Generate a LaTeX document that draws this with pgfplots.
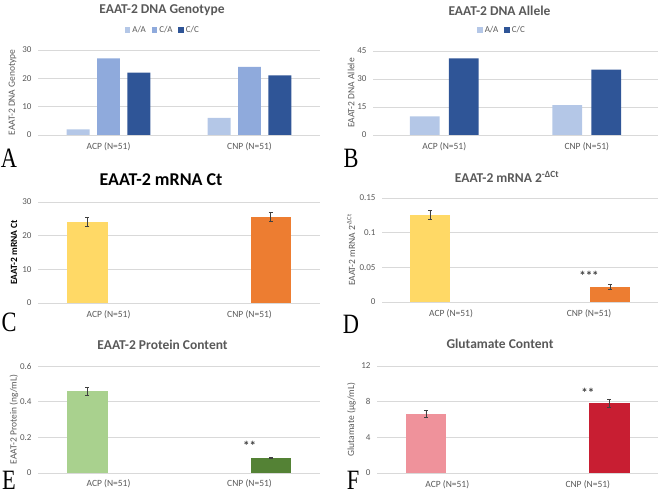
\documentclass[border=0pt]{standalone}
\usepackage{fontspec}
\setmainfont{Carlito}
\newfontfamily\panelfont{Liberation Serif}
\usepackage{pgfplots}
\pgfplotsset{compat=1.18}

\definecolor{gridgray}{HTML}{D9D9D9}
\definecolor{tickgray}{HTML}{595959}
\definecolor{errgray}{HTML}{404040}
\definecolor{aa}{HTML}{B4C7E7}
\definecolor{ca}{HTML}{8FAADC}
\definecolor{cc}{HTML}{2F5597}
\definecolor{yel}{HTML}{FFD966}
\definecolor{ora}{HTML}{ED7D31}
\definecolor{lgreen}{HTML}{A9D18E}
\definecolor{dgreen}{HTML}{548235}
\definecolor{pink}{HTML}{EF929B}
\definecolor{dred}{HTML}{C81E32}

\tikzset{signif/.style={font=\bfseries\fontsize{13}{14}\selectfont, text=errgray}}

\pgfplotsset{
  excelbar/.style={
    scale only axis, ybar, ymin=0,
    xmin=-0.5, xmax=1.5, xtick={0,1},
    xticklabels={ACP (N=51),CNP (N=51)},
    axis line style={draw=none}, major tick length=0pt,
    ymajorgrids, grid style={draw=gridgray, line width=0.6pt},
    /pgf/number format/assume math mode=true,
    yticklabel style={font=\fontsize{9}{10}\selectfont, text=tickgray, xshift=-3pt},
    xticklabel style={font=\fontsize{9.5}{11}\selectfont, text=tickgray, yshift=-4pt},
    ylabel style={font=\fontsize{9.5}{11}\selectfont, text=tickgray, anchor=center},
    clip=false,
  },
  sq/.style={legend image code/.code={\fill[##1] (0pt,-2.7pt) rectangle (5.4pt,2.7pt);}},
  errb/.style={error bars/y dir=both, error bars/y explicit,
    error bars/error bar style={draw=errgray, line width=0.7pt},
    error bars/error mark options={rotate=90, draw=errgray, line width=0.7pt, mark size=2pt}},
  legstyle/.style={legend style={draw=none, fill=none, legend columns=-1,
    font=\fontsize{9}{10}\selectfont, text=tickgray,
    /tikz/every even column/.append style={column sep=4pt}}},
}

\begin{document}
\begin{tikzpicture}
\useasboundingbox (0,0) rectangle (669pt,495pt);

% ---------- A: genotype counts ----------
\begin{axis}[excelbar, at={(38pt,360pt)}, anchor=south west,
  width=282pt, height=85pt, ymax=30, ytick={0,10,20,30},
  ylabel={EAAT-2 DNA Genotype},
  ylabel style={at={(axis description cs:-0.090,0.5)}},
  bar width=0.163, legstyle,
  legend style={at={(axis description cs:0.443,1.235)}, anchor=center}]
\addplot[sq, fill=aa, draw=none, bar shift=-0.216] coordinates {(0,2) (1,6)};
\addplot[sq, fill=ca, draw=none, bar shift=0] coordinates {(0,27) (1,24)};
\addplot[sq, fill=cc, draw=none, bar shift=0.216] coordinates {(0,22) (1,21)};
\legend{A/A, C/A, C/C}
\end{axis}

% ---------- B: allele counts ----------
\begin{axis}[excelbar, at={(373pt,360pt)}, anchor=south west,
  width=285pt, height=84pt, ymax=45, ytick={0,15,30,45},
  ylabel={EAAT-2 DNA Allele},
  ylabel style={at={(axis description cs:-0.077,0.5)}},
  bar width=0.21, legstyle,
  legend style={at={(axis description cs:0.453,1.25)}, anchor=center}]
\addplot[sq, fill=aa, draw=none, bar shift=-0.137] coordinates {(0,10) (1,16)};
\addplot[sq, fill=cc, draw=none, bar shift=0.137] coordinates {(0,41) (1,35)};
\legend{A/A, C/C}
\end{axis}

% ---------- C: mRNA Ct ----------
\begin{axis}[excelbar, at={(38pt,192pt)}, anchor=south west,
  width=282pt, height=101pt, ymax=30, ytick={0,10,20,30},
  ylabel={EAAT-2 mRNA Ct},
  ylabel style={at={(axis description cs:-0.085,0.5)}, font=\bfseries\fontsize{9.5}{11}\selectfont, text=black},
  bar width=0.285]
\addplot[errb, fill=yel, draw=none] coordinates {(0,24) +- (0,1.3)};
\addplot[errb, fill=ora, draw=none] coordinates {(1,25.5) +- (0,1.3)};
\end{axis}

% ---------- D: relative expression ----------
\begin{axis}[excelbar, at={(382pt,193pt)}, anchor=south west,
  width=276pt, height=104pt, ymax=0.15, ytick={0,0.05,0.1,0.15},
  yticklabels={0,0.05,0.1,0.15},
  ylabel={EAAT-2 mRNA 2\textsuperscript{-ΔCt}},
  ylabel style={at={(axis description cs:-0.112,0.5)}},
  bar width=0.29]
\addplot[errb, fill=yel, draw=none] coordinates {(0,0.1255) +- (0,0.0065)};
\addplot[errb, fill=ora, draw=none] coordinates {(1,0.0216) +- (0,0.0035)};
\node[signif] at (axis cs:1,0.038) {***};
\end{axis}

% ---------- E: protein ----------
\begin{axis}[excelbar, at={(38pt,22pt)}, anchor=south west,
  width=282pt, height=107pt, ymax=0.6, ytick={0,0.2,0.4,0.6},
  yticklabels={0,0.2,0.4,0.6},
  ylabel={EAAT-2 Protein (ng/mL)},
  ylabel style={at={(axis description cs:-0.085,0.5)}},
  xticklabel style={yshift=1pt},
  bar width=0.29]
\addplot[errb, fill=lgreen, draw=none] coordinates {(0,0.458) +- (0,0.024)};
\addplot[errb, fill=dgreen, draw=none] coordinates {(1,0.084) +- (0,0.004)};
\node[signif] at (axis cs:1,0.15) {**};
\end{axis}

% ---------- F: glutamate ----------
\begin{axis}[excelbar, at={(377pt,22pt)}, anchor=south west,
  width=281pt, height=107pt, ymax=12, ytick={0,4,8,12},
  ylabel={Glutamate (µg/mL)},
  ylabel style={at={(axis description cs:-0.091,0.5)}},
  bar width=0.29]
\addplot[errb, fill=pink, draw=none] coordinates {(0,6.62) +- (0,0.41)};
\addplot[errb, fill=dred, draw=none] coordinates {(1,7.82) +- (0,0.45)};
\node[signif] at (axis cs:1,8.95) {**};
\end{axis}

% ---------- titles ----------
\begin{scope}[every node/.style={font=\bfseries\fontsize{13.5}{15}\selectfont, text=tickgray}]
\node at (162pt,485pt) {EAAT-2 DNA Genotype};
\node at (499.5pt,484.5pt) {EAAT-2 DNA Allele};
\node at (507pt,318pt) {EAAT-2 mRNA 2\textsuperscript{-ΔCt}};
\node at (162.5pt,150pt) {EAAT-2 Protein Content};
\node at (500pt,151pt) {Glutamate Content};
\end{scope}
\node[font=\bfseries\fontsize{18}{20}\selectfont, text=black] at (161pt,315.5pt) {EAAT-2 mRNA Ct};

% ---------- panel letters ----------
\begin{scope}[every node/.style={font=\panelfont\fontsize{28}{28}\selectfont, inner sep=0pt, xscale=0.8}]
\node at (9pt,336.5pt) {A};
\node at (351pt,337pt) {B};
\node at (9pt,173pt) {C};
\node at (351pt,171pt) {D};
\node at (9pt,15pt) {E};
\node at (353pt,15pt) {F};
\end{scope}
\end{tikzpicture}
\end{document}
